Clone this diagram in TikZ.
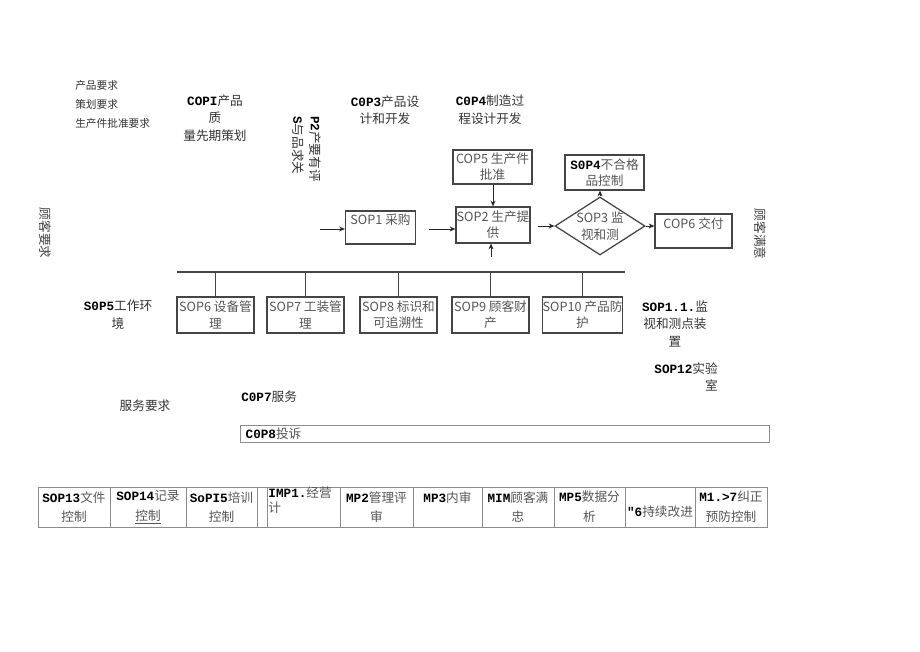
\documentclass[tikz,border=0pt]{standalone}
\usepackage{fontspec}
\setmainfont{Noto Sans CJK SC}
\newfontfamily\codefont{Liberation Mono}
\usetikzlibrary{positioning,arrows.meta,shapes.geometric}
\definecolor{boxline}{HTML}{454545}
\definecolor{boxtext}{HTML}{555555}
\definecolor{gridline}{HTML}{8C8C8C}
\newcommand{\cd}[1]{{\codefont\bfseries\color{black}#1}}

\begin{document}
\begin{tikzpicture}[
    x=0.025cm, y=-0.025cm,
    proc/.style 2 args={draw=boxline, line width=0.9pt, text=boxtext,
                  align=center, font=\fontsize{9}{11.5}\selectfont,
                  inner sep=0pt, minimum width=#1, minimum height=#2},
    check/.style={diamond, draw=boxline, line width=0.9pt,
                  inner sep=0pt, minimum width=2.25cm, minimum height=1.45cm},
    checktext/.style={align=center, text=boxtext, inner sep=0pt,
                  font=\fontsize{9}{12.5}\selectfont},
    note/.style={align=center, text=black!80, inner sep=0pt,
                  font=\fontsize{9}{12.5}\selectfont},
    req/.style={anchor=west, inner sep=0pt, text=black!80,
                  font=\fontsize{7.6}{9}\selectfont},
    side/.style={rotate=-90, inner sep=0pt, text=black!75,
                  font=\fontsize{9}{10}\selectfont},
    cell/.style={draw=gridline, line width=0.5pt, text=boxtext,
                  align=center, font=\fontsize{9}{14}\selectfont,
                  inner sep=0pt, minimum height=1cm, minimum width=#1},
    flow/.style={-{Stealth[length=4pt,width=3.5pt]}, line width=0.6pt, draw=black!85},
    busline/.style={line width=0.9pt, draw=boxline},
  ]
    \useasboundingbox (0,0) rectangle (920,651);

    % --- requirements and planning notes at the top --------------------------
    \node[req] (rq1) at (75,85)  {产品要求};
    \node[req] (rq2) at (75,104) {策划要求};
    \node[req] (rq3) at (75,123) {生产件批准要求};
    \node[note] (cop1) at (215,118) {\cd{COPI}产品\\质\\量先期策划};
    \node[note, rotate=-90, align=left] (p2) at (307,149) {\cd{P2}产要有评\\\cd{S}与品求关};
    \node[note] (cop3) at (385,110) {\cd{C0P3}产品设\\计和开发};
    \node[note] (cop4) at (490,110) {\cd{C0P4}制造过\\程设计开发};

    % --- customer at both ends ----------------------------------------------
    \node[side] (custin)  at (45,233)  {顾客要求};
    \node[side] (custout) at (760,234) {顾客满意};

    % --- main process chain -------------------------------------------------
    \node[proc={1.975cm}{0.85cm}]  (cop5) at (492.5,167) {COP5 生产件\\批准};
    \node[proc={1.975cm}{0.875cm}] (sop4) at (604.5,172.5) {\cd{S0P4}不合格\\品控制};
    \node[proc={1.75cm}{0.825cm}]  (sop1) at (380.5,227.5) {SOP1 采购\\\mbox{}};
    \node[proc={1.85cm}{0.9cm}]    (sop2) at (493,225) {SOP2 生产提\\供};
    \node[check]                   (sop3) at (600,226) {};
    \node[checktext] (sop3t) at (sop3.center) {SOP3 监\\视和测};
    \node[proc={1.925cm}{0.85cm}]  (cop6) at (693.5,231) {COP6 交付\\\mbox{}};

    \coordinate (in)  at (320,229);
    \coordinate (sup) at (491,257);
    \draw[flow] (in) -- (in -| sop1.west);
    \draw[flow] (sop1.east |- 0,229) ++(13,0) coordinate (a1) -- (a1 -| sop2.west);
    \draw[flow] (cop5.south -| sop2.north) -- (sop2.north);
    \draw[flow] (sup) -- (sup |- sop2.south);
    \draw[flow] (sop2.east |- sop3.west) ++(7,0) coordinate (a2) -- (sop3.west);
    \draw[flow] (sop3.north) -- (sop3.north |- sop4.south);
    \draw[flow] (sop3.east) -- (sop3.east -| cop6.west);

    % --- support processes on the bus ---------------------------------------
    \coordinate (bus0) at (177,272);
    \coordinate (bus1) at (625,272);
    \draw[busline] (bus0) -- (bus1);
    \node[note] (sop5) at (118,315) {\cd{S0P5}工作环\\境};
    \node[proc={1.925cm}{0.9cm}] (sop6)  at (215.5,315) {SOP6 设备管\\理};
    \node[proc={1.925cm}{0.9cm}] (sop7)  at (305.5,315) {SOP7 工装管\\理};
    \node[proc={1.925cm}{0.9cm}] (sop8)  at (398.5,315) {SOP8 标识和\\可追溯性};
    \node[proc={1.925cm}{0.9cm}] (sop9)  at (490.5,315) {SOP9 顾客财\\产};
    \node[proc={1.975cm}{0.9cm}] (sop10) at (582.5,315) {SOP10 产品防\\护};
    \draw[busline] (sop6.north)  -- (sop6.north |- bus0);
    \draw[busline] (sop7.north)  -- (sop7.north |- bus0);
    \draw[busline] (sop8.north)  -- (sop8.north |- bus0);
    \draw[busline] (sop9.north)  -- (sop9.north |- bus0);
    \draw[busline] (sop10.north) -- (sop10.north |- bus0);

    \node[note] (sop11) at (675,324) {\cd{SOP1.1.}监\\视和测点装\\置};
    \node[note, anchor=east, align=right] (sop12) at (718,377) {\cd{SOP12}实验\\室};

    % --- service and complaints ---------------------------------------------
    \node[note] (serv) at (145,406) {服务要求};
    \node[note, anchor=west] (cop7) at (241,397) {\cd{C0P7}服务};
    \node[draw=gridline, line width=0.5pt, inner sep=0pt, anchor=north west,
          minimum width=13.225cm, minimum height=0.425cm,
          text width=13.1cm, align=left, text=boxtext,
          font=\fontsize{9}{10}\selectfont] (cop8) at (240,425) {\hspace{2pt}\cd{C0P8}投诉};

    % --- system procedures row at the bottom ---------------------------------
    \node[cell=1.8cm]   (t1)  at (74,507)    {\cd{SOP13}文件\\控制};
    \node[cell=1.9cm]   (t2)  at (148,507)   {\cd{SOP14}记录\\\underline{控制}};
    \node[cell=1.775cm] (t3)  at (221.5,507) {\cd{SoPI5}培训\\控制};
    \node[cell=0.25cm]  (t4)  at (262,507)   {};
    \node[cell=1.825cm, align=left, text width=1.75cm,
          font=\fontsize{9}{10.5}\selectfont] (t5) at (303.5,507) {\cd{IMP1.}经营\\计\\\mbox{}};
    \node[cell=1.825cm] (t6)  at (376.5,507) {\cd{MP2}管理评\\审};
    \node[cell=1.725cm] (t7)  at (447.5,507) {\cd{MP3}内审\\\mbox{}};
    \node[cell=1.8cm]   (t8)  at (518,507)   {\cd{MIM}顾客满\\忠};
    \node[cell=1.775cm] (t9)  at (589.5,507) {\cd{MP5}数据分\\析};
    \node[cell=1.75cm]  (t10) at (660,507)   {\mbox{}\\\cd{″6}持续改进};
    \node[cell=1.8cm]   (t11) at (731,507)   {\cd{M1.>7}纠正\\预防控制};
  \end{tikzpicture}
\end{document}
